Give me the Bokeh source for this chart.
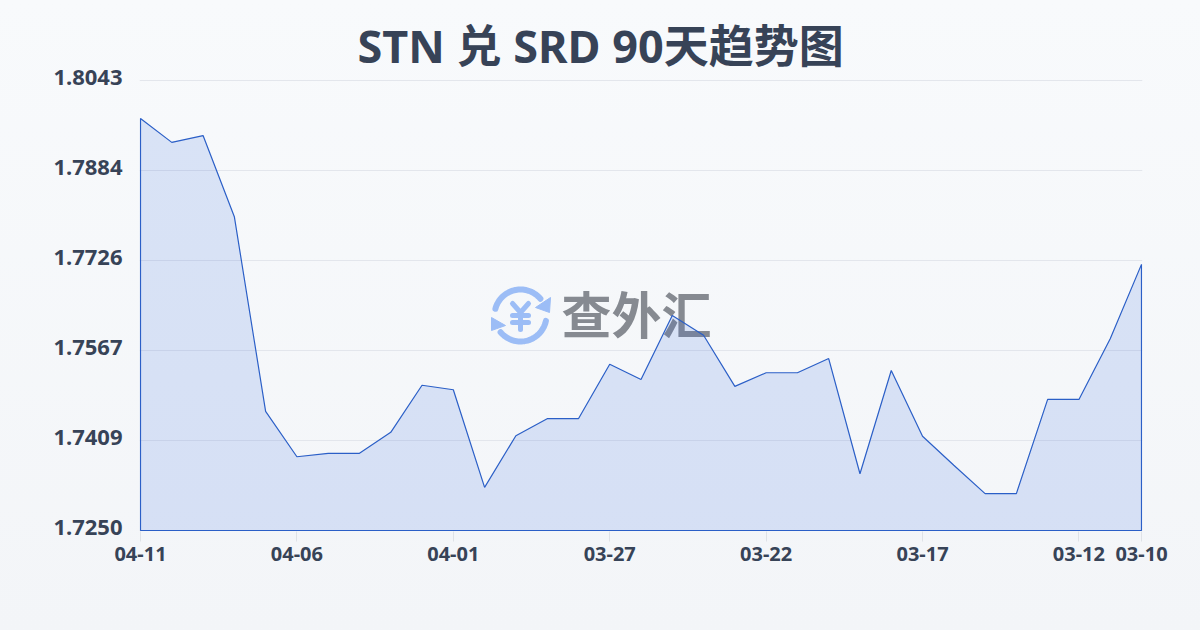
import numpy as np
from bokeh.embed import file_html
from bokeh.resources import INLINE
from bokeh.plotting import figure
from bokeh.models import Range1d, FixedTicker, LinearAxis, Title
from bokeh.core.properties import value

chart_title = "STN 兑 SRD 90天趋势图"
watermark = "查外汇"
rates = [1.7976, 1.7934, 1.7946, 1.7803, 1.7460, 1.7380, 1.7386, 1.7386, 1.7423,
         1.7506, 1.7498, 1.7326, 1.7417, 1.7447, 1.7447, 1.7543, 1.7516, 1.7629,
         1.7594, 1.7504, 1.7528, 1.7528, 1.7553, 1.7350, 1.7532, 1.7416, 1.7365,
         1.7315, 1.7315, 1.7481, 1.7481, 1.7588, 1.7719]
x_tick_index = [0, 5, 10, 15, 20, 25, 30, 32]
x_tick_labels = ["04-11", "04-06", "04-01", "03-27", "03-22", "03-17", "03-12", "03-10"]
y_ticks = [1.7250, 1.7409, 1.7567, 1.7726, 1.7884, 1.8043]
y_labels = ["1.7250", "1.7409", "1.7567", "1.7726", "1.7884", "1.8043"]

FONT = "Noto Sans, Noto Sans CJK SC"
INK = "#374357"
y_min, y_max = y_ticks[0], y_ticks[-1]
n = len(rates) - 1
dx = n / 1001            # one pixel in x units
dy = (y_max - y_min) / 450   # one pixel in y units

p = figure(width=1200, height=630, output_backend="svg", toolbar_location=None,
           x_range=Range1d(-dx, n + dx), y_range=Range1d(y_min - dy, y_max + 4 * dy),
           y_axis_location=None,
           min_border_left=139, min_border_right=58, min_border_top=76, min_border_bottom=99,
           background_fill_color=None, border_fill_color=None, outline_line_color=None)

p.title = Title(text=chart_title, align="left", offset=218, standoff=2,
                text_font=FONT, text_font_style="bold", text_font_size="45px", text_color=INK)

# pixel-space ranges for the watermark only
p.extra_x_ranges["px"] = Range1d(139, 1142)
p.extra_y_ranges["px"] = Range1d(531, 76)
# axis range nudged so labels sit slightly above their gridlines
p.extra_y_ranges["labels"] = Range1d(y_min - 4 * dy, y_max + dy)

p.xaxis.ticker = FixedTicker(ticks=x_tick_index)
p.xaxis.major_label_overrides = dict(zip(x_tick_index, x_tick_labels))
yaxis = LinearAxis(y_range_name="labels", ticker=FixedTicker(ticks=y_ticks),
                   major_label_overrides=dict(zip(y_ticks, y_labels)))
p.add_layout(yaxis, "left")
p.ygrid.ticker = FixedTicker(ticks=y_ticks)
p.xaxis.axis_line_color = None
yaxis.axis_line_color = None
p.xaxis.minor_tick_line_color = None
yaxis.minor_tick_line_color = None
yaxis.major_tick_line_color = None
yaxis.major_tick_out = 0
yaxis.major_tick_in = 0
p.xaxis.major_tick_line_color = "#dfe2e7"
p.xaxis.major_tick_out = 10
p.xaxis.major_tick_in = 0
p.xaxis.major_label_standoff = 5
yaxis.major_label_standoff = 17
p.xaxis.major_label_text_font = FONT
yaxis.major_label_text_font = FONT
p.xaxis.major_label_text_font_style = "bold"
yaxis.major_label_text_font_style = "bold"
p.xaxis.major_label_text_font_size = "20px"
yaxis.major_label_text_font_size = "22px"
p.xaxis.major_label_text_color = INK
yaxis.major_label_text_color = INK
p.xgrid.grid_line_color = None
p.ygrid.grid_line_color = "#e3e6ec"
p.ygrid.grid_line_width = 1

# watermark logo
logo = "#9cbdf6"
th = np.radians(np.linspace(165, 40, 40))
p.line(520 + 26 * np.cos(th), 315 - 26 * np.sin(th), x_range_name="px", y_range_name="px",
       line_color=logo, line_width=6, line_cap="round")
th = np.radians(np.linspace(-12, -140, 40))
p.line(520 + 26 * np.cos(th), 315 - 26 * np.sin(th), x_range_name="px", y_range_name="px",
       line_color=logo, line_width=6, line_cap="round")
p.patch([550, 549, 535], [297, 312, 307], x_range_name="px", y_range_name="px", color=logo)
p.patch([491, 491, 505], [317, 330, 325], x_range_name="px", y_range_name="px", color=logo)
p.multi_line([[512, 520, 528], [520, 520], [512, 528], [512, 528]],
             [[303, 312, 303], [312, 329], [315, 315], [322, 322]],
             x_range_name="px", y_range_name="px",
             line_color=logo, line_width=5, line_cap="round", line_join="round")
p.text([636], [311], text=[watermark], x_range_name="px", y_range_name="px",
       text_font=value("Noto Sans CJK SC"), text_font_style="bold", text_font_size="50px",
       text_color="#868a91", text_align="center", text_baseline="middle")

# area
idx = list(range(len(rates)))
p.patch(idx + [idx[-1], idx[0]], rates + [y_min, y_min],
        fill_color="#3068e0", fill_alpha=0.15, line_color="#2b5fc7", line_width=1.2)

html = file_html(p, INLINE)
css = ("<style>html{min-height:100%;background:linear-gradient(180deg,#f8fafc 0%,#f3f5f8 100%);"
       "background-size:100% 630px;background-repeat:no-repeat;background-color:#f3f5f8}"
       "body{background:transparent !important;margin:0 !important}</style>")
html = html.replace("</head>", css + "</head>", 1)
open("out.html", "w").write(html)
